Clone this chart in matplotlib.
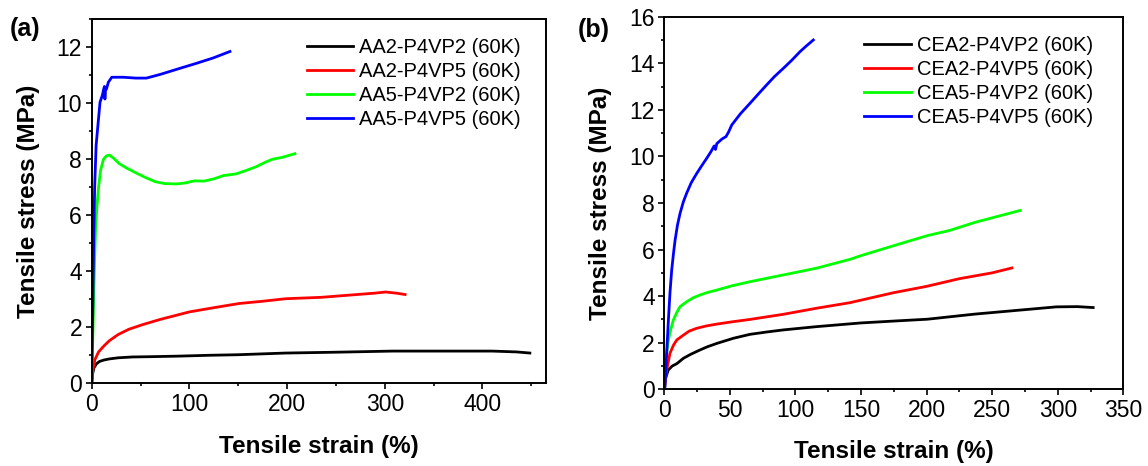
import matplotlib.pyplot as plt
from matplotlib.ticker import MultipleLocator

plt.rcParams['font.family'] = ['Liberation Sans', 'DejaVu Sans']

# (a) AA/P4VP blends
a_labels = ["AA2-P4VP2 (60K)", "AA2-P4VP5 (60K)", "AA5-P4VP2 (60K)", "AA5-P4VP5 (60K)"]

aa22_x = [0, 1, 2.2, 5, 8, 12.4, 18, 27, 41.6, 60, 89, 120, 150, 198.5, 250, 308, 360, 410, 435, 448.5]
aa22_y = [0, 0.35, 0.55, 0.7, 0.78, 0.83, 0.87, 0.91, 0.94, 0.95, 0.97, 1.0, 1.02, 1.08, 1.11, 1.15, 1.15, 1.15, 1.12, 1.08]

aa25_x = [0, 1, 3.3, 7, 12.4, 18, 27, 38, 52.6, 70, 89, 100, 125, 151, 175, 198.5, 235, 271.5, 290, 300.7, 311.7, 320.8]
aa25_y = [0, 0.45, 0.85, 1.12, 1.33, 1.52, 1.74, 1.93, 2.1, 2.28, 2.45, 2.55, 2.7, 2.85, 2.93, 3.02, 3.07, 3.17, 3.22, 3.26, 3.22, 3.17]

aa52_x = [0, 1, 2, 3, 4, 5.5, 7, 9, 12, 15, 18, 22, 28, 35, 45, 55, 65, 75, 87, 95, 105, 115,
          125, 135, 148, 158, 168, 178, 185, 195, 208]
aa52_y = [0, 1.5, 3.0, 4.5, 5.6, 6.4, 7.0, 7.6, 8.0, 8.12, 8.15, 8.05, 7.85, 7.7, 7.52, 7.35, 7.2, 7.13, 7.12,
          7.15, 7.23, 7.22, 7.3, 7.42, 7.48, 7.6, 7.73, 7.9, 8.0, 8.07, 8.2]

aa55_x = [0, 1, 2, 3, 4.5, 6.8, 8.5, 11, 12.2, 13, 13.5, 14.2, 15, 17, 20.5, 32.4, 45, 56, 70, 90.4,
          107.4, 124.4, 141.5]
aa55_y = [0, 2.5, 5.0, 7.0, 8.5, 9.39, 10.04, 10.3, 10.5, 10.6, 10.15, 10.55, 10.5, 10.75, 10.93, 10.93,
          10.9, 10.9, 11.03, 11.25, 11.43, 11.62, 11.85]

# (b) CEA/P4VP blends
b_labels = ["CEA2-P4VP2 (60K)", "CEA2-P4VP5 (60K)", "CEA5-P4VP2 (60K)", "CEA5-P4VP5 (60K)"]

cea22_x = [0, 0.5, 3, 6, 9.5, 14.5, 20, 27.2, 33, 40, 52.6, 65.3, 78, 90.7, 116, 150, 175, 200.7, 237,
           265, 299, 315, 327]
cea22_y = [0, 0.4, 0.83, 1.0, 1.1, 1.33, 1.5, 1.69, 1.83, 1.97, 2.19, 2.36, 2.46, 2.55, 2.69, 2.85, 2.93,
           3.01, 3.23, 3.37, 3.54, 3.55, 3.51]

cea25_x = [0, 1.8, 4.3, 7, 9.5, 14.6, 19, 24.7, 32, 40, 52, 65.3, 90.7, 116, 141.6, 175, 200, 225, 250, 265]
cea25_y = [0, 0.83, 1.55, 1.9, 2.12, 2.33, 2.5, 2.62, 2.72, 2.8, 2.9, 3.0, 3.22, 3.48, 3.72, 4.15, 4.42,
           4.75, 5.0, 5.21]

cea52_x = [0, 1, 3.1, 5, 6.9, 9.5, 12, 17, 22, 27.2, 33, 40, 52, 65.3, 90.7, 116, 141.6, 150, 181, 200.7,
           217.5, 237, 271.4]
cea52_y = [0, 1.2, 2.12, 2.6, 2.98, 3.3, 3.55, 3.76, 3.93, 4.05, 4.16, 4.26, 4.45, 4.62, 4.91, 5.2, 5.58,
           5.74, 6.27, 6.6, 6.82, 7.17, 7.68]

cea55_x = [0, 0.5, 1.8, 3.1, 4.3, 5.6, 7, 8.2, 10, 12, 14.5, 17, 20.5, 24.7, 28.5, 32.3, 35.5, 38, 39,
           40, 44, 47, 49, 51.4, 58, 65.3, 72, 78, 84, 90.7, 97, 103.5, 108, 113.6]
cea55_y = [0, 0.1, 1.6, 2.98, 4.15, 5.12, 5.85, 6.41, 7.05, 7.56, 8.05, 8.42, 8.87, 9.27, 9.6, 9.92, 10.2,
           10.45, 10.3, 10.55, 10.75, 10.85, 11.05, 11.35, 11.83, 12.28, 12.7, 13.07, 13.43, 13.78, 14.12,
           14.5, 14.73, 15.0]

colors = ['#000000', '#ff0000', '#00ff00', '#0000ff']

fig = plt.figure(figsize=(11.48, 4.66), dpi=100)
ax1 = fig.add_axes([0.0799, 0.1775, 0.3957, 0.7811])
ax2 = fig.add_axes([0.5787, 0.1646, 0.3998, 0.7996])

a_series = [(aa22_x, aa22_y), (aa25_x, aa25_y), (aa52_x, aa52_y), (aa55_x, aa55_y)]
b_series = [(cea22_x, cea22_y), (cea25_x, cea25_y), (cea52_x, cea52_y), (cea55_x, cea55_y)]

for (x, y), c, lab in zip(a_series, colors, a_labels):
    ax1.plot(x, y, color=c, lw=2, label=lab)
for (x, y), c, lab in zip(b_series, colors, b_labels):
    ax2.plot(x, y, color=c, lw=2, label=lab)

ax1.set_xlim(0, 465)
ax1.set_ylim(0, 13)
ax1.xaxis.set_major_locator(MultipleLocator(100))
ax1.xaxis.set_minor_locator(MultipleLocator(50))
ax1.yaxis.set_major_locator(MultipleLocator(2))
ax1.yaxis.set_minor_locator(MultipleLocator(1))

ax2.set_xlim(0, 350)
ax2.set_ylim(0, 16)
ax2.xaxis.set_major_locator(MultipleLocator(50))
ax2.xaxis.set_minor_locator(MultipleLocator(25))
ax2.yaxis.set_major_locator(MultipleLocator(2))
ax2.yaxis.set_minor_locator(MultipleLocator(1))

for ax, lx, ly, xpad in [(ax1, 0.473, 0.948, 14), (ax2, 0.436, 0.948, 13)]:
    for s in ax.spines.values():
        s.set_linewidth(1.4)
    ax.tick_params(which='major', direction='out', length=4, width=1.2, labelsize=16.5, pad=3)
    ax.tick_params(which='minor', direction='out', length=2, width=1.2)
    ax.set_xlabel("Tensile strain (%)", fontsize=17.5, fontweight='bold', labelpad=xpad)
    ax.set_ylabel("Tensile stress (MPa)", fontsize=17.5, fontweight='bold', labelpad=12)
    ax.legend(loc='upper left', bbox_to_anchor=(lx, ly), frameon=False, fontsize=14.5,
              handlelength=2.3, handletextpad=0.3, labelspacing=0.25, borderpad=0, borderaxespad=0)

fig.text(0.022, 0.938, "(a)", fontsize=18, fontweight='bold', ha='center', va='center')
fig.text(0.517, 0.935, "(b)", fontsize=18, fontweight='bold', ha='center', va='center')

fig.savefig("out.png", dpi=100)
